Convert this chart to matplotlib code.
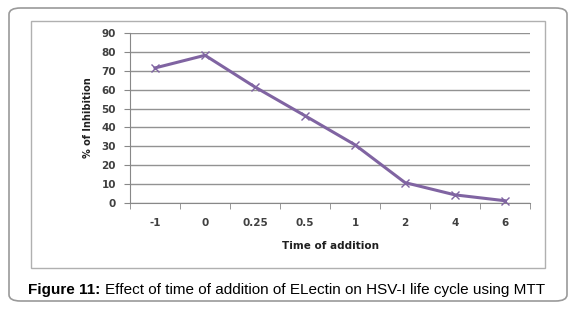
import matplotlib
matplotlib.use("Agg")
import matplotlib.pyplot as plt
from matplotlib.patches import FancyBboxPatch, Rectangle
import numpy as np

categories = ["-1", "0", "0.25", "0.5", "1", "2", "4", "6"]
inhibition = [71.5, 78.2, 61.4, 46.2, 30.8, 10.8, 4.3, 1.2]
yticks = [0, 10, 20, 30, 40, 50, 60, 70, 80, 90]

W, H = 576, 314
fig = plt.figure(figsize=(W/100, H/100), dpi=100)
fig.patch.set_facecolor("white")

# outer rounded frame
outer = FancyBboxPatch((9/W, 1 - 301/H), (567-9)/W, (301-8)/H,
                       boxstyle="round,pad=0,rounding_size=0.02",
                       transform=fig.transFigure, facecolor="white",
                       edgecolor="#9a9a9a", linewidth=1.2, zorder=0)
fig.patches.append(outer)
# inner chart frame
inner = Rectangle((31/W, 1 - 268/H), (545-31)/W, (268-21)/H,
                  transform=fig.transFigure, facecolor="white",
                  edgecolor="#b0b0b0", linewidth=1.0, zorder=0.5)
fig.patches.append(inner)

ax = fig.add_axes([130/W, 1 - 203/H, 400/W, 170/H])
ax.set_zorder(5)
ax.set_facecolor("none")
x = np.arange(len(categories))
ax.plot(x, inhibition, color="#8064A2", linewidth=2.2, marker="x",
        markersize=6, markeredgewidth=1.0, zorder=3, clip_on=False)
ax.set_xlim(-0.5, len(categories) - 0.5)
ax.set_ylim(0, 90)
ax.set_yticks(yticks)
ax.set_xticks(x)
ax.set_xticklabels(categories)
ax.set_xticks(np.arange(-0.5, len(categories), 1), minor=True)
ax.tick_params(axis="x", which="major", length=0, pad=11,
               labelsize=7.5, labelcolor="#404040")
ax.tick_params(axis="x", which="minor", length=4, color="#888888",
               direction="out")
ax.tick_params(axis="y", length=4, color="#888888", pad=6,
               labelsize=7.5, labelcolor="#404040")
for lab in ax.get_xticklabels() + ax.get_yticklabels():
    lab.set_fontweight("bold")
    lab.set_family("DejaVu Sans")
ax.grid(axis="y", color="#929292", linewidth=1.0)
ax.set_axisbelow(True)
for s in ["top", "right"]:
    ax.spines[s].set_visible(False)
ax.spines["left"].set_color("#888888")
ax.spines["bottom"].set_color("#888888")
ax.set_ylabel("% of Inhibition", fontsize=7, fontweight="bold",
              color="#202020", labelpad=6)
ax.set_xlabel("Time of addition", fontsize=7.5, fontweight="bold",
              color="#202020", labelpad=9)

# caption
fig.text(28/W, 1 - 290/H, "Figure 11:", fontsize=11, fontweight="bold",
         family="Liberation Sans", va="center", ha="left")
fig.text(105/W, 1 - 290/H,
         "Effect of time of addition of ELectin on HSV-I life cycle using MTT",
         fontsize=11, family="Liberation Sans", va="center", ha="left")

fig.savefig("out.png", dpi=100)
